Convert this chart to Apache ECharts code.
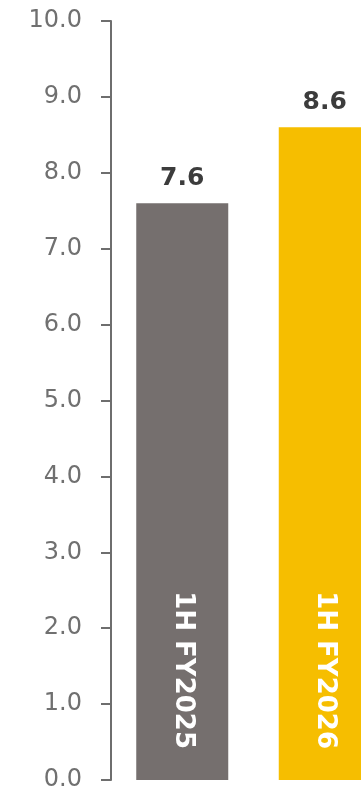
<!DOCTYPE html>
<html>
<head>
<meta charset="utf-8">
<style>
  html, body { margin: 0; padding: 0; background: #ffffff; overflow: hidden; }
  /* the chart is wider than the window, so the second bar runs off the right edge */
  #chart { width: 396px; height: 794px; }
</style>
<script src="https://cdn.jsdelivr.net/npm/echarts@6/dist/echarts.min.js"></script>
</head>
<body>
<div id="chart"></div>
<script>
// Half-year periods and their values
const periods = ['1H FY2025', '1H FY2026'];
const values = [7.6, 8.6];
const barColors = ['#756f6e', '#f6be00'];

// Value axis range
const axisMin = 0;
const axisMax = 10;
const axisStep = 1;

const chart = echarts.init(document.getElementById('chart'), null, { renderer: 'canvas' });

const axisGray = '#6e6e6e';

chart.setOption({
  animation: false,
  backgroundColor: '#ffffff',
  grid: { left: 111, top: 21, bottom: 14, right: 0, containLabel: false },
  xAxis: {
    type: 'category',
    data: periods,
    axisLine: { show: false },
    axisTick: { show: false },
    axisLabel: { show: false }
  },
  yAxis: {
    type: 'value',
    min: axisMin,
    max: axisMax,
    interval: axisStep,
    splitLine: { show: false },
    axisLine: { show: true, lineStyle: { color: axisGray, width: 2 } },
    axisTick: { show: true, length: 10, lineStyle: { color: axisGray, width: 2 } },
    axisLabel: {
      margin: 29,
      color: '#707070',
      fontFamily: 'DejaVu Sans',
      fontWeight: 'normal',
      fontSize: 24,
      formatter: v => v.toFixed(1)
    }
  },
  series: [
    {
      // coloured bars with their value on top
      type: 'bar',
      barWidth: 92,
      data: values.map((v, i) => ({ value: v, itemStyle: { color: barColors[i] } })),
      label: {
        show: true,
        position: 'top',
        distance: 12,
        color: '#3c3c3c',
        fontFamily: 'DejaVu Sans',
        fontWeight: 'bold',
        fontSize: 25,
        formatter: p => p.value.toFixed(1)
      }
    },
    {
      // same bars, invisible, carrying the period name written down the bar
      type: 'bar',
      barWidth: 92,
      barGap: '-100%',
      silent: true,
      data: values,
      itemStyle: { color: 'rgba(0,0,0,0)' },
      label: {
        show: true,
        position: 'insideBottom',
        distance: 28,
        rotate: -90,
        align: 'right',
        verticalAlign: 'middle',
        offset: [-3, 0],
        color: '#ffffff',
        fontFamily: 'DejaVu Sans',
        fontWeight: 'bold',
        fontSize: 26,
        formatter: p => p.name
      }
    }
  ]
});
</script>
</body>
</html>
